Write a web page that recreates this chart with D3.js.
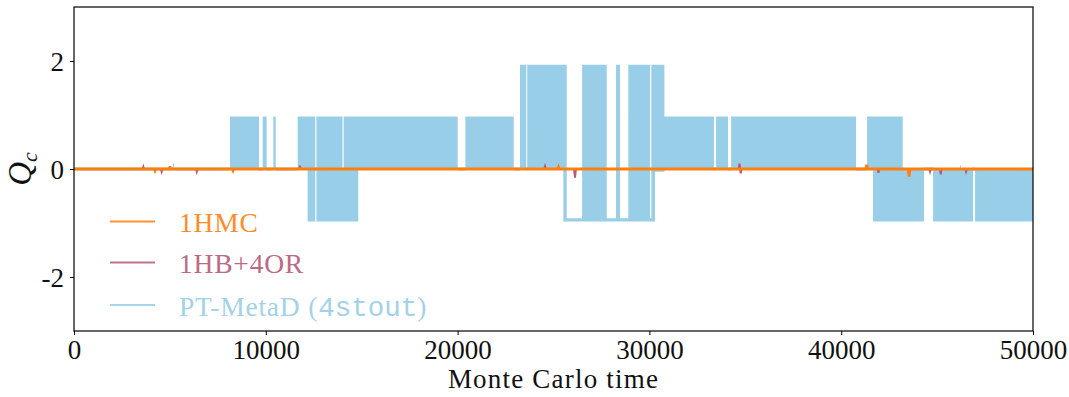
<!DOCTYPE html>
<html>
<head>
<meta charset="utf-8">
<script src="https://cdn.jsdelivr.net/npm/d3@7"></script>
<style>
  body { margin: 0; background: #fff; }
  text { font-family: "Liberation Serif", "DejaVu Serif", serif; }
</style>
</head>
<body>
<svg id="chart" width="1069" height="397"></svg>
<script>
// charge levels the PT-MetaD stream jumps between
const L1 = 0.97, L2 = 1.93, LM = -0.97;

// PT-MetaD (4stout): [start time, low, high] - the series fills [low, high] until the next start
const metadSteps = [
  [0, -0.03, 0.03], [5150, 0, 0.1], [5210, -0.03, 0.03],
  [8134, 0, L1], [9646, -0.03, 0.03], [9837, 0, L1], [10045, -0.03, 0.03],
  [10392, 0, L1], [10515, -0.03, 0.03], [11663, 0, L1], [12180, LM, L1],
  [12580, -0.03, 0.03], [12640, LM, L1], [14000, LM, 0], [14060, LM, L1],
  [14823, 0, L1], [20004, -0.03, 0.03], [20405, 0, L1], [22925, -0.03, 0.03],
  [23255, 0, L2], [23580, -0.03, 0.03], [23630, 0, L2], [25513, LM, L2],
  [25690, LM, LM + 0.06], [26490, LM, L2], [27775, LM, LM + 0.06],
  [28260, LM, L2], [28470, LM, LM + 0.06], [28900, LM, L2],
  [30033, LM, LM + 0.06], [30100, LM, L2], [30290, -0.05, L2],
  [30780, 0, L1], [33371, -0.03, 0.03], [33475, 0, L1], [34100, -0.03, 0.03],
  [34260, 0, L1], [40774, -0.03, 0.03], [41350, 0, L1], [41660, LM, L1],
  [43207, LM, 0], [44320, -0.03, 0.03], [44790, LM, 0], [46190, LM, 0.07],
  [46240, LM, 0], [46875, -0.03, 0.03], [46980, LM, 0], [50000, LM, 0]
];

// 1HB+4OR: [time, Q_c]
const hbSeries = [
  [0, 0], [3580, 0], [3615, 0.04], [3650, 0], [4530, 0], [4570, -0.05], [4610, 0],
  [6360, 0], [6400, -0.05], [6440, 0], [11740, 0], [11780, 0.06], [11820, 0],
  [24520, 0], [24560, 0.05], [24600, 0], [26070, 0], [26120, -0.16], [26170, 0],
  [34650, 0], [34700, 0.1], [34760, -0.08], [34810, 0], [41900, 0], [41940, -0.07],
  [41980, 0], [44590, 0], [44630, -0.05], [44670, 0], [45150, 0], [45190, -0.1],
  [45230, 0], [46470, 0], [46510, -0.05], [46550, 0], [50000, 0]
];

// 1HMC: [time, Q_c]
const hmcSeries = [
  [0, 0], [4190, 0], [4225, -0.03], [4260, 0], [4970, 0], [5005, 0.05], [5040, 0],
  [8250, 0], [8290, -0.03], [8330, 0], [25230, 0], [25260, 0.03], [25290, 0],
  [41290, 0], [41330, 0.08], [41370, 0], [43500, 0], [43540, -0.14], [43580, 0],
  [50000, 0]
];

const xTicks = [0, 10000, 20000, 30000, 40000, 50000];
const yTicks = [-2, 0, 2];
const legendNames = ['1HMC', '1HB+4OR', 'PT-MetaD'];
const colors = { hmc: '#ff7f0e', hb: '#b8587a', metad: '#99cee8' };

const margin = { top: 7, right: 36, bottom: 66, left: 74 };
const width = 1069, height = 397;
const innerW = width - margin.left - margin.right;
const innerH = height - margin.top - margin.bottom;

const svg = d3.select('#chart');
const g = svg.append('g').attr('transform', `translate(${margin.left},${margin.top})`);

const x = d3.scaleLinear().domain([0, 50000]).range([0, innerW]);
const y = d3.scaleLinear().domain([-3, 3]).range([innerH, 0]);

// clip everything to the axes box
svg.append('clipPath').attr('id', 'clip')
  .append('rect').attr('width', innerW).attr('height', innerH);
const plot = g.append('g').attr('clip-path', 'url(#clip)');

// PT-MetaD as a filled band: it flips so fast the line fills the region
plot.append('path')
  .datum(metadSteps)
  .attr('fill', colors.metad)
  .attr('d', d3.area()
    .curve(d3.curveStepAfter)
    .x(d => x(d[0]))
    .y0(d => y(d[1]))
    .y1(d => y(d[2])));

const line = d3.line().x(d => x(d[0])).y(d => y(d[1]));

plot.append('path')
  .datum(hbSeries)
  .attr('fill', 'none')
  .attr('stroke', colors.hb)
  .attr('stroke-width', 2)
  .attr('d', line);

plot.append('path')
  .datum(hmcSeries)
  .attr('fill', 'none')
  .attr('stroke', colors.hmc)
  .attr('stroke-width', 2.8)
  .attr('d', line);

// axes
const xAxis = g.append('g')
  .attr('transform', `translate(0,${innerH})`)
  .call(d3.axisBottom(x).tickValues(xTicks).tickFormat(d => String(d)).tickSize(4).tickSizeOuter(0));
const yAxis = g.append('g')
  .call(d3.axisLeft(y).tickValues(yTicks).tickFormat(d => String(d)).tickSize(4).tickSizeOuter(0));

[xAxis, yAxis].forEach(a => {
  a.select('.domain').remove();
  a.selectAll('line').attr('stroke', '#000').attr('stroke-width', 1);
  a.selectAll('text')
    .attr('fill', '#111')
    .style('font-family', '"Liberation Serif", serif')
    .style('font-size', '27px');
});
xAxis.selectAll('text').attr('dy', null).attr('y', 28);
yAxis.selectAll('text').attr('x', -10).attr('dy', '0.36em');

// frame
g.append('rect')
  .attr('width', innerW).attr('height', innerH)
  .attr('fill', 'none').attr('stroke', '#000').attr('stroke-width', 1.2);

// axis labels
svg.append('text')
  .attr('x', margin.left + innerW / 2).attr('y', 388)
  .attr('text-anchor', 'middle')
  .style('font-size', '27px').style('letter-spacing', '1.2px')
  .attr('fill', '#111')
  .text('Monte Carlo time');

const yl = svg.append('text')
  .attr('transform', `translate(31,${margin.top + y(0)}) rotate(-90)`)
  .attr('text-anchor', 'middle')
  .attr('fill', '#111')
  .style('font-size', '33px').style('font-style', 'italic');
yl.append('tspan').text('Q');
yl.append('tspan').attr('dy', 6).style('font-size', '22px').text('c');

// legend
const legendColors = [colors.hmc, colors.hb, colors.metad];
const legendY = [221.5, 262.5, 305];
const legend = svg.append('g');
legendNames.forEach((name, i) => {
  legend.append('line')
    .attr('x1', 110).attr('x2', 155)
    .attr('y1', legendY[i]).attr('y2', legendY[i])
    .attr('stroke', legendColors[i]).attr('stroke-width', 2.2).attr('opacity', 0.85);
  const t = legend.append('text')
    .attr('x', 179).attr('y', legendY[i] + 10.5)
    .attr('fill', legendColors[i]).attr('opacity', 0.9)
    .style('font-size', '27.5px').style('letter-spacing', '0.8px')
    .text(name);
  if (i === 2) {
    t.append('tspan').text(' (');
    t.append('tspan')
      .style('font-family', '"Liberation Mono", "DejaVu Sans Mono", monospace')
      .style('letter-spacing', '0px')
      .text('4stout');
    t.append('tspan').text(')');
  }
});
</script>
</body>
</html>
